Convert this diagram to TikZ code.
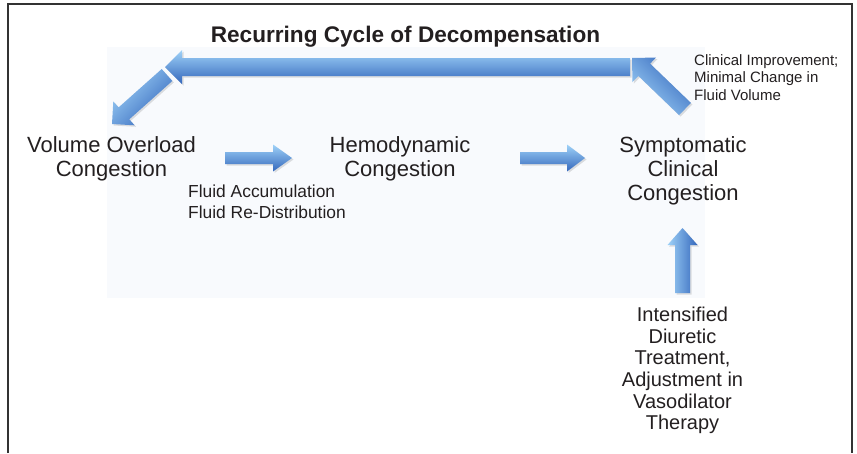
\documentclass[tikz,border=0pt]{standalone}
\usepackage{fontspec}
\setmainfont{Liberation Sans}
\usetikzlibrary{calc}

\definecolor{arrowlight}{HTML}{9FD2F8}
\definecolor{arrowmid}{HTML}{559BE4}
\definecolor{arrowdark}{HTML}{3467BC}
\definecolor{panel}{HTML}{F8FAFD}
\definecolor{frameline}{HTML}{333333}
\definecolor{ink}{HTML}{231F20}

\tikzset{
  bigtext/.style={font={\fontsize{22}{24}\selectfont}, text=ink, align=center, inner sep=0pt, anchor=north},
  notetext/.style={text=ink, inner sep=0pt, anchor=north west, align=left},
  arrowbody/.style={top color=arrowlight, middle color=arrowmid, bottom color=arrowdark},
  arrowshadow/.style={fill=black, opacity=0.12, transform canvas={shift={(1.5pt,-1.5pt)}}}
}

% Block arrow from #1 to tip #2: shaft half width #3, head half width #4,
% head length #5, shading angle #6
\newcommand\fatarrow[6]{%
  \coordinate (fa-s1) at ($(#1)!#3!90:(#2)$);
  \coordinate (fa-s2) at ($(#1)!#3!-90:(#2)$);
  \coordinate (fa-b)  at ($(#2)!#5!(#1)$);
  \coordinate (fa-b1) at ($(fa-b)!#3!90:(#2)$);
  \coordinate (fa-b2) at ($(fa-b)!#3!-90:(#2)$);
  \coordinate (fa-h1) at ($(fa-b)!#4!90:(#2)$);
  \coordinate (fa-h2) at ($(fa-b)!#4!-90:(#2)$);
  \fill[arrowshadow] (fa-s1) -- (fa-b1) -- (fa-h1) -- (#2) -- (fa-h2) -- (fa-b2) -- (fa-s2) -- cycle;
  \shade[arrowbody, shading angle=#6] (fa-s1) -- (fa-b1) -- (fa-h1) -- (#2) -- (fa-h2) -- (fa-b2) -- (fa-s2) -- cycle;
}

\begin{document}
\begin{tikzpicture}[x=1pt, y=-1pt]
\useasboundingbox (0,0) rectangle (857,453);

% open frame and light panel
\fill[panel] (107,47) rectangle (705,298);
\draw[frameline, line width=1.8pt] (8,453) -- (8,4) -- (852,4) -- (852,453);

% title
\node[font={\fontsize{22.6}{24}\selectfont\bfseries}, text=ink, inner sep=0pt, anchor=base] (title) at (405.5,42) {Recurring Cycle of Decompensation};

% stages
\node[bigtext] (volume) at (111.5,136) {Volume Overload\\Congestion};
\node[bigtext] (hemo) at (400,136) {Hemodynamic\\Congestion};
\node[bigtext] (sympt) at (683,136) {Symptomatic\\Clinical\\Congestion};

% notes
\node[notetext, font={\fontsize{17.4}{21}\selectfont}] (fluid) at (188,184.5) {Fluid Accumulation\\Fluid Re-Distribution};
\node[notetext, font={\fontsize{15}{17.5}\selectfont}] (improve) at (694,54) {Clinical Improvement;\\Minimal Change in\\Fluid Volume};
\node[font={\fontsize{20}{21.6}\selectfont}, text=ink, inner sep=0pt, align=center, anchor=north] (treat) at (682.5,307) {Intensified\\Diuretic\\Treatment,\\Adjustment in\\Vasodilator\\Therapy};

% arrow end points
\coordinate (downS) at (167,75);
\coordinate (downT) at (112,124);
\coordinate (topS) at (630,67);
\coordinate (topT) at (165,67);
\coordinate (upS) at (685,109);
\coordinate (upT) at (632,58);
\coordinate (aS) at (225,158);
\coordinate (aT) at (292,158);
\coordinate (bS) at (520,158);
\coordinate (bT) at (585,158);
\coordinate (vS) at (682.5,293);
\coordinate (vT) at (682.5,228);

% arrows
\fatarrow{downS}{downT}{8pt}{16pt}{16pt}{45}
\fatarrow{upS}{upT}{8.5pt}{17pt}{17pt}{135}
\fatarrow{topS}{topT}{9pt}{17pt}{17pt}{0}
\fatarrow{aS}{aT}{6pt}{13.5pt}{19pt}{0}
\fatarrow{bS}{bT}{6pt}{13.5pt}{18pt}{0}
\fatarrow{vS}{vT}{7.5pt}{15pt}{17pt}{90}
\end{tikzpicture}
\end{document}
